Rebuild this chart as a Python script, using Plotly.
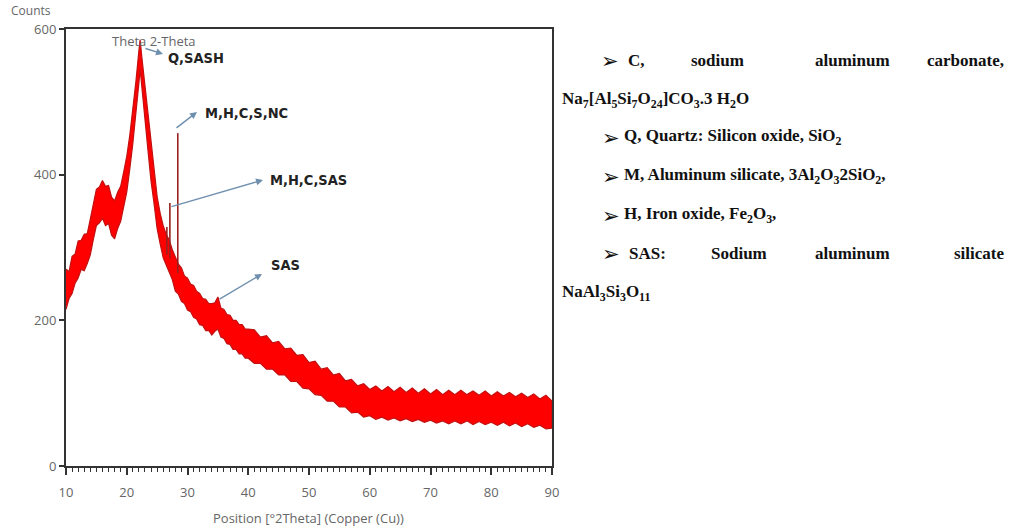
import plotly.graph_objects as go

# ---------------- data ----------------
# 2-theta positions (degrees) at which the upper / lower edges of the noisy trace were read
two_theta = [10, 10.5, 11, 11.5, 12, 12.5, 13, 13.5, 14, 14.5, 15, 15.5, 16, 16.5, 17, 17.5, 18, 18.5, 19, 19.5,
             20, 20.5, 21, 21.5, 22, 22.2, 22.5, 23, 23.5, 24, 24.5, 25, 25.5, 26, 26.5, 27, 27.5, 28, 28.5, 29,
             29.5, 30, 30.5, 31, 31.5, 32, 32.5, 33, 33.5, 34, 34.5, 35, 35.5, 36, 36.5, 37, 37.5, 38, 38.5, 39,
             39.5, 40, 41, 42, 43, 44, 45, 46, 47, 48, 49, 50, 51, 52, 53, 54, 55, 56, 57, 58, 59, 60,
             61, 62, 63, 64, 65, 66, 67, 68, 69, 70, 71, 72, 73, 74, 75, 76, 77, 78, 79, 80,
             81, 82, 83, 84, 85, 86, 87, 88, 89, 90]
counts_upper = [270, 267, 288, 291, 309, 310, 318, 319, 339, 359, 380, 383, 392, 384, 385, 369, 364, 376, 384, 404,
                425, 454, 487, 527, 570, 585, 560, 522, 477, 437, 402, 370, 347, 330, 318, 310, 297, 286, 277, 272,
                261, 258, 250, 248, 240, 237, 230, 229, 223, 223, 224, 232, 217, 215, 208, 207, 200, 200, 194, 194,
                188, 188, 187, 177, 179, 169, 171, 161, 162, 152, 153, 142, 144, 133, 135, 125, 127, 117, 119, 110, 113, 105,
                110, 103, 109, 102, 108, 101, 107, 100, 106, 99, 105, 98, 104, 98, 104, 98, 103, 97, 103, 96,
                102, 96, 101, 95, 100, 94, 99, 92, 97, 89]
counts_lower = [215, 230, 237, 251, 258, 270, 268, 278, 290, 311, 330, 334, 340, 330, 333, 317, 312, 326, 336, 356,
                376, 408, 443, 483, 526, 545, 518, 478, 433, 391, 360, 326, 305, 286, 277, 266, 256, 240, 236, 226,
                223, 214, 212, 204, 202, 194, 193, 186, 186, 180, 185, 188, 177, 175, 168, 167, 160, 160, 154, 154,
                148, 148, 141, 141, 133, 133, 125, 125, 116, 116, 107, 106, 98, 97, 89, 89, 81, 81, 73, 74, 67, 69,
                64, 67, 63, 66, 62, 65, 61, 64, 60, 63, 59, 62, 58, 62, 58, 62, 57, 61, 57, 60,
                56, 60, 55, 59, 54, 58, 53, 56, 51, 52]

# sharp reflections rising out of the background
spike_pos = [26.6, 27.1, 28.4]
spike_base = [290, 285, 265]
spike_top = [328, 361, 457]

x_ticks = [10, 20, 30, 40, 50, 60, 70, 80, 90]
y_ticks = [0, 200, 400, 600]

# ---------------- geometry helpers (pixel -> paper) ----------------
W, H = 1014, 528
L, R, T, B = 66, 552, 29, 466


def px(x):
    return (x - L) / (R - L)


def py(y):
    return (B - y) / (B - T)


fig = go.Figure()

# noisy band as polygon between upper and lower envelopes
poly_x = two_theta + two_theta[::-1]
poly_y = counts_upper + counts_lower[::-1]
fig.add_trace(go.Scatter(x=poly_x, y=poly_y, fill="toself", fillcolor="#ff0000",
                         line=dict(color="#c21010", width=1.2), mode="lines",
                         hoverinfo="skip", showlegend=False))

# sharp peaks
sx, sy = [], []
for p, b, t in zip(spike_pos, spike_base, spike_top):
    sx += [p, p, None]
    sy += [b, t, None]
fig.add_trace(go.Scatter(x=sx, y=sy, mode="lines", line=dict(color="#9a2020", width=1.6),
                         hoverinfo="skip", showlegend=False))

axis_font = dict(family="Open Sans, Noto Sans, sans-serif", size=13, color="#666666")

fig.update_layout(
    width=W, height=H,
    margin=dict(l=L, r=W - R, t=T, b=H - B, pad=0),
    paper_bgcolor="white", plot_bgcolor="white",
    showlegend=False,
    xaxis=dict(range=[10, 90], tickmode="array", tickvals=x_ticks, ticks="outside",
               ticklen=7, tickwidth=1.5, tickcolor="#333", showline=True, linecolor="#333",
               linewidth=2, mirror=True, showgrid=False, zeroline=False, tickfont=axis_font,
               ticklabelstandoff=6,
               minor=dict(dtick=1, tick0=10, ticks="outside", ticklen=4, tickcolor="#333", tickwidth=1)),
    yaxis=dict(range=[0, 600], tickmode="array", tickvals=y_ticks, ticks="outside",
               ticklen=5, tickwidth=1.5, tickcolor="#333", showline=True, linecolor="#333",
               linewidth=2, mirror=True, showgrid=False, zeroline=False, tickfont=axis_font),
)

anns = []
# axis titles / labels
anns.append(dict(text="Position [°2Theta] (Copper (Cu))", xref="paper", yref="paper",
                 x=px(308), y=py(518), xanchor="center", yanchor="middle", showarrow=False,
                 font=axis_font))
anns.append(dict(text="Counts", xref="paper", yref="paper", x=px(53), y=py(10),
                 xanchor="right", yanchor="middle", showarrow=False,
                 font=dict(family="Open Sans, Noto Sans, sans-serif", size=12, color="#666666")))
anns.append(dict(text="Theta 2-Theta", xref="paper", yref="paper", x=px(154), y=py(41),
                 xanchor="center", yanchor="middle", showarrow=False, font=axis_font))

# peak labels with arrows (arrowhead toward the text)
lab_font = dict(family="DejaVu Sans Condensed, Liberation Sans Narrow, Liberation Sans, sans-serif",
                size=14.5, color="#222222")
arrow_col = "#6f8fae"
peak_labels = [
    # text, tail(px), head(px), text-left(px), text-center-y(px)
    ("<b>Q,SASH</b>", (144, 48), (163, 54), 166, 58),
    ("<b>M,H,C,S,NC</b>", (175, 129), (197, 112), 203, 113),
    ("<b>M,H,C,SAS</b>", (170, 207), (263, 180), 268, 180),
    ("<b>SAS</b>", (218, 300), (262, 274), 269, 265),
]
for txt, tail, head, tx, ty in peak_labels:
    anns.append(dict(text="", xref="x domain", yref="y domain", x=px(head[0]), y=py(head[1]),
                     axref="x domain", ayref="y domain", ax=px(tail[0]), ay=py(tail[1]),
                     showarrow=True, arrowhead=2, arrowsize=1, arrowwidth=1.4,
                     arrowcolor=arrow_col, standoff=0, startstandoff=0))
    anns.append(dict(text=txt, xref="paper", yref="paper", x=px(tx), y=py(ty),
                     xanchor="left", yanchor="middle", showarrow=False, font=lab_font))

# right-hand legend text
serif = dict(family="Liberation Serif, Times New Roman, serif", size=17, color="#111111")
bullet_font = dict(family="DejaVu Sans, sans-serif", size=21, color="#111111")


def t(text, x, y, anchor="left"):
    anns.append(dict(text=text, xref="paper", yref="paper", x=px(x), y=py(y),
                     xanchor=anchor, yanchor="middle", showarrow=False, font=serif))


def bullet(x, y):
    anns.append(dict(text="➢", xref="paper", yref="paper", x=px(x), y=py(y),
                     xanchor="left", yanchor="middle", showarrow=False, font=bullet_font))


bullet(599, 61)
t("<b>C,</b>", 626, 60)
t("<b>sodium</b>", 717, 60, "center")
t("<b>aluminum</b>", 852, 60, "center")
t("<b>carbonate,</b>", 1006, 60, "right")
t("<b>Na<sub>7</sub>[Al<sub>5</sub>Si<sub>7</sub>O<sub>24</sub>]CO<sub>3</sub>.3 H<sub>2</sub>O</b>", 560, 100)
bullet(600, 138)
t("<b>Q, Quartz: Silicon oxide, SiO<sub>2</sub></b>", 622, 137)
bullet(600, 177)
t("<b>M, Aluminum silicate, 3Al<sub>2</sub>O<sub>3</sub>2SiO<sub>2</sub>,</b>", 622, 176)
bullet(600, 216)
t("<b>H, Iron oxide, Fe<sub>2</sub>O<sub>3</sub>,</b>", 622, 215)
bullet(600, 254)
t("<b>SAS:</b>", 627, 253)
t("<b>Sodium</b>", 739, 253, "center")
t("<b>aluminum</b>", 852, 253, "center")
t("<b>silicate</b>", 1006, 253, "right")
t("<b>NaAl<sub>3</sub>Si<sub>3</sub>O<sub>11</sub></b>", 560, 293)

fig.update_layout(annotations=anns)
fig.write_html("out.html")
